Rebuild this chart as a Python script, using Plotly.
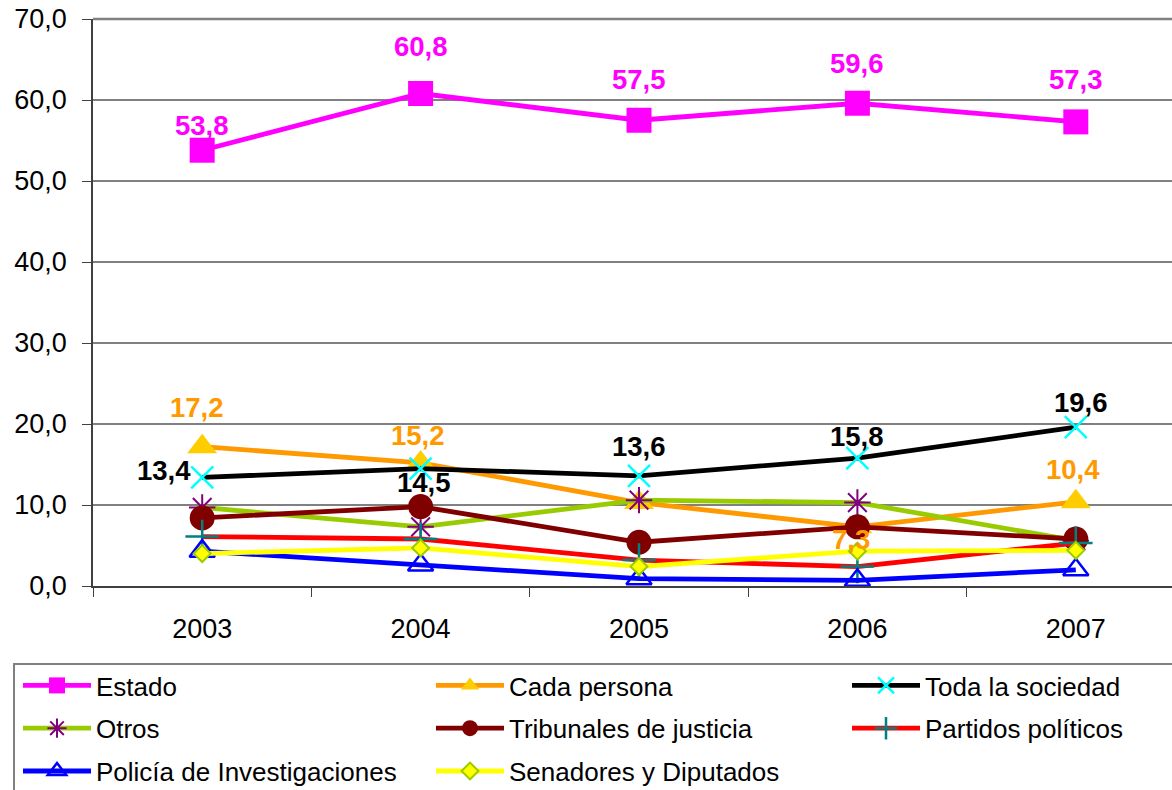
import plotly.graph_objects as go

years = ["2003", "2004", "2005", "2006", "2007"]
estado = [53.8, 60.8, 57.5, 59.6, 57.3]
cada_persona = [17.2, 15.2, 10.3, 7.3, 10.4]
toda_sociedad = [13.4, 14.5, 13.6, 15.8, 19.6]
otros = [9.7, 7.3, 10.6, 10.3, 5.6]
tribunales = [8.4, 9.8, 5.4, 7.3, 5.8]
partidos = [6.1, 5.8, 3.2, 2.4, 5.3]
policia = [4.3, 2.6, 0.9, 0.7, 2.0]
senadores = [4.0, 4.7, 2.4, 4.3, 4.4]
y_ticks = [0, 10, 20, 30, 40, 50, 60, 70]

FONT = "Liberation Sans, Arial, sans-serif"

series = [
    ("Estado", estado, "#FF00FF",
     dict(symbol="square", size=25, color="#FF00FF"), "legend"),
    ("Cada persona", cada_persona, "#FF9900",
     dict(symbol="triangle-up", size=26, color="#FFCC00"), "legend2"),
    ("Toda la sociedad", toda_sociedad, "#000000",
     dict(symbol="x-thin-open", size=22, color="#00FFFF", line=dict(width=2.5, color="#00FFFF")), "legend3"),
    ("Otros", otros, "#99CC00",
     dict(symbol="asterisk-open", size=22, color="#800080", line=dict(width=2, color="#800080")), "legend"),
    ("Tribunales de justicia", tribunales, "#800000",
     dict(symbol="circle", size=25, color="#800000"), "legend2"),
    ("Partidos políticos", partidos, "#FF0000",
     dict(symbol="cross-thin-open", size=24, color="#008080", line=dict(width=2.5, color="#008080")), "legend3"),
    ("Policía de Investigaciones", policia, "#0000FF",
     dict(symbol="triangle-up-open", size=22, color="#0000FF", line=dict(width=2.5, color="#0000FF")), "legend"),
    ("Senadores y Diputados", senadores, "#FFFF00",
     dict(symbol="diamond", size=13, color="#FFFF00", line=dict(width=2, color="#99CC00")), "legend2"),
]

fig = go.Figure()
for i, (name, vals, lc, mk, lg) in enumerate(series):
    fig.add_trace(go.Scatter(
        x=years, y=vals, name=name, mode="lines+markers",
        line=dict(color=lc, width=4.8), marker=mk,
        legend=lg, legendgroup="g%d" % i,
    ))

# data labels: (series values, colour, per-point (xshift, yshift) or None)
label_sets = [
    (estado, "#FF00FF", [(0, 25), (0, 47), (0, 41), (0, 40), (0, 42)]),
    (cada_persona, "#FF9900", [(-5, 39), (-3, 27), None, (-6, -13), (-3, 32)]),
    (toda_sociedad, "#000000", [(-38, 7), (3, -14), (0, 29), (0, 22), (5, 25)]),
]
for vals, col, offs in label_sets:
    for idx, (v, off) in enumerate(zip(vals, offs)):
        if off is None:
            continue
        fig.add_annotation(
            x=idx, y=v, xref="x", yref="y",
            text="<b>" + f"{v:.1f}".replace(".", ",") + "</b>",
            showarrow=False, xshift=off[0], yshift=off[1],
            font=dict(family=FONT, size=27.5, color=col),
        )

# the plot area runs past the right edge of the 1172px window, as in the reference
W, H = 1185, 790
PW = W - 93
legend_common = dict(
    orientation="v", xref="container", yref="container",
    yanchor="top", xanchor="left", y=1 - 662 / H,
    font=dict(family=FONT, size=26, color="#000000"),
    bgcolor="rgba(0,0,0,0)", borderwidth=0,
    itemwidth=68, tracegroupgap=6, itemclick=False,
)

fig.update_layout(
    width=W, height=H,
    margin=dict(l=93, r=0, t=19, b=790 - 586, autoexpand=False),
    paper_bgcolor="white", plot_bgcolor="white",
    separators=",.",
    showlegend=True,
    legend=dict(legend_common, x=18 / W),
    legend2=dict(legend_common, x=431 / W),
    legend3=dict(legend_common, x=847 / W),
    shapes=[
        dict(type="rect", xref="paper", yref="paper",
             x0=(14 - 93) / PW, x1=1.05,
             y0=-(800 - 586) / 567, y1=-(664 - 586) / 567,
             line=dict(color="#808080", width=2), fillcolor="rgba(0,0,0,0)",
             layer="below"),
        dict(type="line", xref="paper", yref="paper", x0=0, x1=1, y0=1, y1=1,
             line=dict(color="#808080", width=2.5), layer="below"),
    ],
    font=dict(family=FONT, size=26, color="#000000"),
)
fig.update_xaxes(
    type="category", range=[-0.5, 4.5],
    showline=True, linecolor="#404040", linewidth=2,
    ticks="outside", tickson="boundaries", ticklen=9, tickcolor="#404040",
    showgrid=False, tickfont=dict(family=FONT, size=27), ticklabelstandoff=18,
)
fig.update_yaxes(
    range=[0, 70], tickvals=y_ticks, tickformat=".1f",
    showline=True, linecolor="#404040", linewidth=1.5,
    ticks="outside", ticklen=9, tickcolor="#404040",
    showgrid=True, gridcolor="#808080", gridwidth=1.5, zeroline=False,
    tickfont=dict(family=FONT, size=27), ticklabelstandoff=10,
    ticklabeloverflow="allow",
)

fig.write_html(
    "out.html",
    config={"displayModeBar": False},
    post_script="document.body.style.margin='0';document.body.style.overflow='hidden';",
)
